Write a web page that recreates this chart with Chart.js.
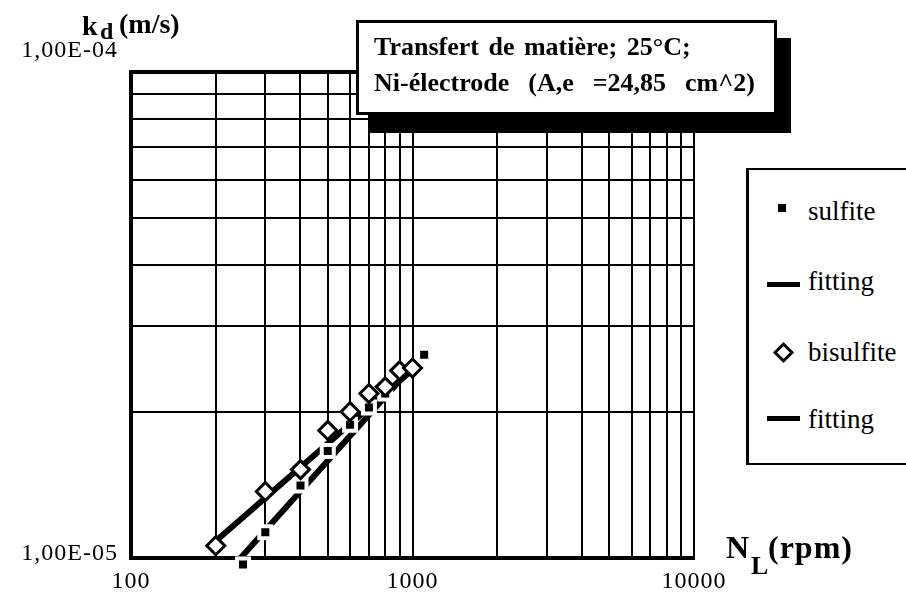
<!DOCTYPE html>
<html>
<head>
<meta charset="utf-8">
<script src="https://cdn.jsdelivr.net/npm/chart.js@4.4.0/dist/chart.umd.min.js"></script>
<style>
  body { margin: 0; background: #fff; }
  #wrap { position: relative; width: 906px; height: 614px; overflow: hidden; font-family: "Liberation Serif", serif; color: #000; }
  #graf { position: absolute; left: 0; top: 0; }
  .txt { position: absolute; white-space: pre; line-height: 1; }
  .b { font-weight: bold; }
  #titre { position: absolute; left: 356px; top: 20px; width: 415px; height: 89px; border: 3px solid #000; background: #fff;
           box-shadow: 14px 18px 0 0 #000; font-weight: bold; font-size: 26px; word-spacing: 3px; }
  #legende { position: absolute; left: 746px; top: 168px; width: 200px; height: 293px; border: 2px solid #000; border-left-width: 3px; background: #fff; }
  .mk { position: absolute; background: #000; }
</style>
</head>
<body>
<div id="wrap">
  <canvas id="graf" width="906" height="614"></canvas>

  <!-- titre des axes -->
  <div class="txt b" style="left:82px; top:12px; font-size:28px;">k</div>
  <div class="txt b" style="left:100px; top:19px; font-size:24px;">d</div>
  <div class="txt b" style="left:119px; top:10px; font-size:28px;">(m/s)</div>

  <div class="txt b" style="left:726px; top:531px; font-size:32px;">N</div>
  <div class="txt b" style="left:751px; top:553px; font-size:26px;">L</div>
  <div class="txt b" style="left:768px; top:531px; font-size:32px; letter-spacing:1px;">(rpm)</div>

  <!-- boîte du titre -->
  <div id="titre">
    <div class="txt" style="left:15px; top:11px;">Transfert de matière; 25°C;</div>
    <div class="txt" style="left:15px; top:47px;">Ni-électrode  (A,e  =24,85  cm^2)</div>
  </div>

  <!-- légende -->
  <div id="legende">
    <div class="mk" style="left:29px; top:34px; width:8px; height:8px;"></div>
    <div class="txt" style="left:59px; top:28px; font-size:27px;">sulfite</div>
    <div class="mk" style="left:18px; top:112px; width:33px; height:5px;"></div>
    <div class="txt" style="left:59px; top:98px; font-size:27px;">fitting</div>
    <div class="mk" style="left:27px; top:175px; width:9px; height:9px; background:#fff; border:3px solid #000; transform:rotate(45deg);"></div>
    <div class="txt" style="left:59px; top:169px; font-size:27px;">bisulfite</div>
    <div class="mk" style="left:18px; top:246px; width:33px; height:5px;"></div>
    <div class="txt" style="left:59px; top:236px; font-size:27px;">fitting</div>
  </div>
</div>

<script>
// Données (N_L en rpm, k_d en m/s)
const sulfiteN = [250, 300, 400, 500, 600, 700, 800, 1100];
const sulfiteKd = [0.97e-5, 1.13e-5, 1.41e-5, 1.66e-5, 1.88e-5, 2.04e-5, 2.18e-5, 2.62e-5];

const bisulfiteN = [200, 300, 400, 500, 600, 700, 800, 900, 1000];
const bisulfiteKd = [1.06e-5, 1.37e-5, 1.52e-5, 1.83e-5, 2.0e-5, 2.18e-5, 2.25e-5, 2.43e-5, 2.46e-5];

// droites d'ajustement (extrémités)
const fitSulfiteN = [245, 950];
const fitSulfiteKd = [1.0e-5, 2.4e-5];
const fitBisulfiteN = [195, 1040];
const fitBisulfiteKd = [1.07e-5, 2.49e-5];

// graduations de la grille
const xGrille = [100, 200, 300, 400, 500, 600, 700, 800, 900, 1000, 2000, 3000, 4000, 5000, 6000, 7000, 8000, 9000, 10000];
const yGrille = [1e-5, 2e-5, 3e-5, 4e-5, 5e-5, 6e-5, 7e-5, 8e-5, 9e-5, 1e-4];

// libellés des axes
const xLabelVals = [100, 1000, 10000];
const xLabelTexts = ['100', '1000', '10000'];
const yLabelVals = [1e-4, 1e-5];
const yLabelTexts = ['1,00E-04', '1,00E-05'];
const yLabelShift = [-15, 2];

const pts = (xs, ys) => xs.map((x, i) => ({ x: x, y: ys[i] }));

// plugin qui écrit les libellés des graduations
const libellesPlugin = {
    id: 'libelles',
    afterDraw(chart) {
        const ctx = chart.ctx;
        const sx = chart.scales.x, sy = chart.scales.y;
        ctx.save();
        ctx.fillStyle = '#000';
        ctx.font = '24px "Liberation Serif"';
        ctx.letterSpacing = '1px';
        ctx.textBaseline = 'alphabetic';
        ctx.textAlign = 'right';
        yLabelVals.forEach((v, i) => {
            ctx.fillText(yLabelTexts[i], 118, sy.getPixelForValue(v) + yLabelShift[i]);
        });
        ctx.textAlign = 'center';
        xLabelVals.forEach((v, i) => {
            ctx.fillText(xLabelTexts[i], sx.getPixelForValue(v), sy.bottom + 30);
        });
        ctx.restore();
    }
};

const ctx = document.getElementById('graf').getContext('2d');
const graf = new Chart(ctx, {
    type: 'scatter',
    data: {
        datasets: [
            {
                label: 'bisulfite',
                data: pts(bisulfiteN, bisulfiteKd),
                pointStyle: 'rectRot',
                pointRadius: 9,
                backgroundColor: '#fff',
                borderColor: '#000',
                borderWidth: 3,
                clip: false,
                order: 0
            },
            {
                label: 'sulfite',
                data: pts(sulfiteN, sulfiteKd),
                pointStyle: 'rect',
                pointRadius: 8.5,
                backgroundColor: '#000',
                borderColor: '#fff',
                borderWidth: 4,
                clip: false,
                order: 1
            },
            {
                label: 'fitting',
                data: pts(fitSulfiteN, fitSulfiteKd),
                showLine: true,
                borderColor: '#000',
                borderWidth: 6,
                pointRadius: 0,
                clip: false,
                order: 2
            },
            {
                label: 'fitting',
                data: pts(fitBisulfiteN, fitBisulfiteKd),
                showLine: true,
                borderColor: '#000',
                borderWidth: 6,
                pointRadius: 0,
                clip: false,
                order: 3
            }
        ]
    },
    options: {
        responsive: false,
        animation: false,
        devicePixelRatio: 1,
        layout: { padding: { left: 131, right: 212, top: 72, bottom: 56 } },
        plugins: { legend: { display: false }, tooltip: { enabled: false } },
        scales: {
            x: {
                type: 'logarithmic',
                min: 100,
                max: 10000,
                afterBuildTicks: s => { s.ticks = xGrille.map(v => ({ value: v })); },
                ticks: { display: false },
                grid: { color: '#000', lineWidth: 2, drawTicks: false },
                border: { color: '#000', width: 4 }
            },
            y: {
                type: 'logarithmic',
                min: 1e-5,
                max: 1e-4,
                afterBuildTicks: s => { s.ticks = yGrille.map(v => ({ value: v })); },
                ticks: { display: false },
                grid: {
                    color: '#000',
                    lineWidth: c => (c.tick && c.tick.value === 1e-4 ? 4 : 2),
                    drawTicks: false
                },
                border: { color: '#000', width: 4 }
            }
        }
    },
    plugins: [libellesPlugin]
});
</script>
</body>
</html>
